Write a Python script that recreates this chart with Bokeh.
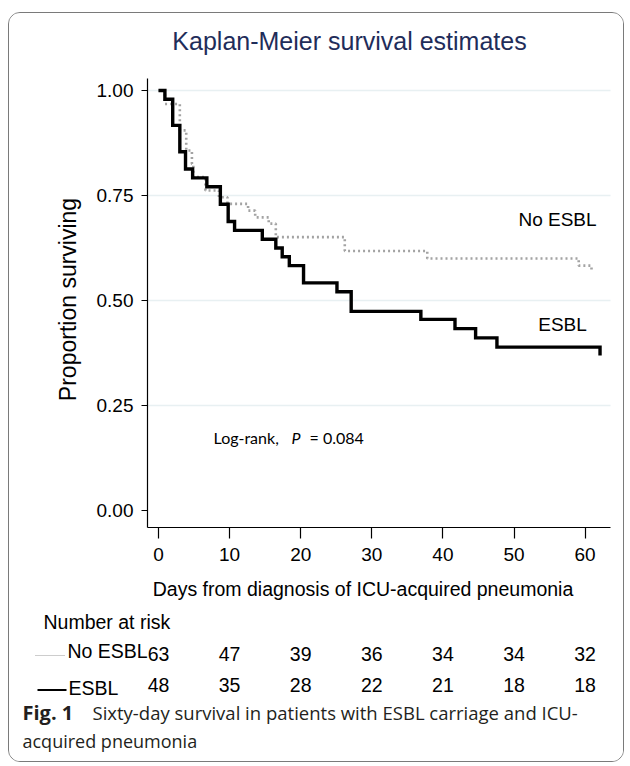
import math
from bokeh.plotting import figure
from bokeh.models import Range1d, FixedTicker, NumeralTickFormatter, ColumnDataSource, LinearAxis
from bokeh.layouts import column
from bokeh.embed import file_html
from bokeh.resources import INLINE
from bokeh.core.properties import value

# ---------------- data ----------------
esbl_t = [0, 0.9, 2.0, 3.0, 3.8, 4.8, 6.8, 8.7, 9.8, 10.7, 14.6, 16.5, 17.4, 18.4,
          20.4, 25.1, 27.1, 36.9, 41.7, 44.6, 47.6, 62.1]
esbl_s = [1.0, 0.979, 0.917, 0.854, 0.813, 0.792, 0.771, 0.729, 0.688, 0.667, 0.646,
          0.625, 0.604, 0.583, 0.542, 0.521, 0.474, 0.455, 0.433, 0.411, 0.389, 0.369]

noesbl_t = [0, 0.9, 3.0, 3.9, 4.7, 4.9, 6.6, 8.5, 9.7, 12.6, 13.6, 15.5, 16.5,
            26.2, 37.8, 59.1, 60.9]
noesbl_s = [1.0, 0.968, 0.905, 0.857, 0.825, 0.794, 0.762, 0.746, 0.730, 0.714, 0.698,
            0.683, 0.651, 0.618, 0.600, 0.583, 0.568]

x_ticks = [0, 10, 20, 30, 40, 50, 60]
y_ticks = [0.0, 0.25, 0.5, 0.75, 1.0]
grid_ticks = [0.25, 0.5, 0.75, 1.0]

risk_days = [0, 10, 20, 30, 40, 50, 60]
risk_noesbl = [63, 47, 39, 36, 34, 34, 32]
risk_esbl = [48, 35, 28, 22, 21, 18, 18]

title_text = "Kaplan-Meier survival estimates"
xlabel = "Days from diagnosis of ICU-acquired pneumonia"
ylabel = "Proportion surviving"
caption_bold = "Fig. 1"
caption_line1 = "Sixty-day survival in patients with ESBL carriage and ICU-"
caption_line2 = "acquired pneumonia"

# ---------------- layout helpers (page pixel -> data) ----------------
PX_PER_DAY = 7.11
X0_PX = 158.0          # page x of day 0
def px2day(px):
    return (px - X0_PX) / PX_PER_DAY

def py2s(py):          # page y -> survival proportion (1.00 at y=90, 0.00 at y=510)
    return (510.0 - py) / 420.0

FIG_X, FIG_Y = 9, 13   # page position of the figure (margin + border)
W, H = 614, 748
FRAME_L, FRAME_R, FRAME_T, FRAME_B = 147, 610, 78, 527

FONT = value("Liberation Sans")

p = figure(width=W, height=H,
           x_range=Range1d(px2day(FIG_X), px2day(FIG_X + W)),
           y_range=Range1d(py2s(FIG_Y + H), py2s(FIG_Y)),
           x_axis_location=None, y_axis_location=None,
           output_backend="svg", toolbar_location=None, min_border=0)
p.outline_line_color = None
p.background_fill_color = "white"
p.border_fill_color = "white"
p.xgrid.visible = False
p.ygrid.visible = False

# horizontal grid lines
p.segment(x0=[px2day(FRAME_L)] * len(grid_ticks), x1=[px2day(FRAME_R)] * len(grid_ticks),
          y0=grid_ticks, y1=grid_ticks, line_color="#e8f0f2", line_width=1.5)

# axes (library axes, fixed inside the canvas)
xax = LinearAxis(fixed_location=py2s(FRAME_B),
                 bounds=(px2day(FRAME_L), px2day(FRAME_R)),
                 ticker=FixedTicker(ticks=x_ticks))
yax = LinearAxis(fixed_location=px2day(FRAME_L),
                 bounds=(py2s(FRAME_B), py2s(FRAME_T)),
                 ticker=FixedTicker(ticks=y_ticks),
                 formatter=NumeralTickFormatter(format="0.00"))
for ax in (xax, yax):
    ax.axis_line_color = "black"
    ax.axis_line_width = 1.2
    ax.major_tick_line_color = "black"
    ax.major_tick_line_width = 1.2
    ax.minor_tick_line_color = None
    ax.major_tick_in = 0
    ax.major_label_text_font = "Liberation Sans"
    ax.major_label_text_font_size = "19px"
    ax.major_label_text_color = "black"
xax.major_tick_out = 11
xax.major_label_standoff = 9
yax.major_tick_out = 6
yax.major_label_standoff = 8
p.add_layout(xax, "below")
p.add_layout(yax, "left")

# survival curves
src_no = ColumnDataSource(dict(t=noesbl_t, s=noesbl_s))
src_es = ColumnDataSource(dict(t=esbl_t, s=esbl_s))
p.step(x="t", y="s", source=src_no, mode="after", line_color="#a3a3a3",
       line_width=2.6, line_dash="2 3")
p.step(x="t", y="s", source=src_es, mode="after", line_color="black",
       line_width=3.4, line_join="miter")

def txt(px, py, s, size="19px", align="left", font=FONT, style="normal",
        color="black", angle=0.0):
    p.text(x=[px2day(px)], y=[py2s(py)], text=[s], text_align=align,
           text_baseline="middle", text_font=font, text_font_size=size,
           text_font_style=style, text_color=color, angle=angle)

# title and axis titles
txt(349, 40, title_text, size="25px", align="center", color="#1f2d5a")
txt(362.5, 588, xlabel, size="19.5px", align="center")
txt(67, 299, ylabel, size="23px", align="center", angle=math.pi / 2)

# curve labels
txt(557, 218.5, "No ESBL", align="center")
txt(562, 323.5, "ESBL", align="center")

# log-rank annotation
LR_FONT = value("Lato")
txt(213, 437, "Log-rank,", size="16px", font=LR_FONT)
txt(291, 437, "P", size="16px", font=LR_FONT, style="italic")
txt(309, 437, "= 0.084", size="16px", font=LR_FONT)

# number at risk
txt(43, 621, "Number at risk", size="19.5px")
p.line(x=[px2day(35), px2day(65)], y=[py2s(655), py2s(655)], line_color="#9a9a9a",
       line_width=1.2, line_dash="1 1")
p.line(x=[px2day(37), px2day(66)], y=[py2s(689.5), py2s(689.5)], line_color="black",
       line_width=1.8)
txt(67, 650, "No ESBL", size="19.5px")
txt(68, 687.5, "ESBL", size="19.5px")
p.text(x=risk_days, y=[py2s(653)] * len(risk_days), text=[str(v) for v in risk_noesbl],
       text_align="center", text_baseline="middle", text_font=FONT,
       text_font_size="19.5px", text_color="black")
p.text(x=risk_days, y=[py2s(684.5)] * len(risk_days), text=[str(v) for v in risk_esbl],
       text_align="center", text_baseline="middle", text_font=FONT,
       text_font_size="19.5px", text_color="black")

# caption
CAP_FONT = value("Open Sans")
txt(22, 712, caption_bold, size="20px", font=CAP_FONT, style="bold", color="#231f20")
txt(92, 712, caption_line1, size="18.5px", font=CAP_FONT, color="#231f20")
txt(22, 740, caption_line2, size="18px", font=CAP_FONT, color="#231f20")

layout = column(p, spacing=0,
                styles={"border": "1px solid #7a7a7a", "border-radius": "12px",
                        "margin": "12px 0 0 8px", "overflow": "hidden",
                        "background-color": "white"})

open("out.html", "w").write(file_html(layout, INLINE))
